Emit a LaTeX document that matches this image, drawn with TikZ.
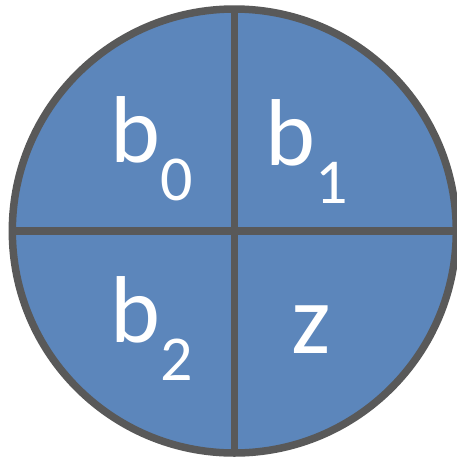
\documentclass[tikz,border=0pt]{standalone}
\usepackage{fontspec}
\setmainfont{Carlito}
\definecolor{fillblue}{RGB}{92,134,187}
\definecolor{edgegray}{RGB}{89,89,89}
\tikzset{
  disk/.style={circle, draw=edgegray, fill=fillblue, line width=7.5pt, minimum size=444pt, inner sep=0pt, outer sep=0pt},
  divider/.style={draw=edgegray, line width=7.5pt},
  lbl/.style={text=white, inner sep=0pt, outer sep=0pt, anchor=base west, font=\fontsize{95}{95}\selectfont},
}
\newcommand{\subd}[1]{\hspace{1pt}\raisebox{-38pt}{\fontsize{64}{64}\selectfont #1}}
\begin{document}
\begin{tikzpicture}[x=1pt,y=-1pt]
\useasboundingbox (0,0) rectangle (457,456);
\node[disk] (c) at (234.3,231) {};
\draw[divider] (c.north) -- (c.south);
\draw[divider] (c.west) -- (c.east);
\node[lbl] (b0) at (110,162.7) {b\subd{0}};
\node[lbl] (b1) at (265,165) {b\subd{1}};
\node[lbl] (b2) at (110,342.3) {b\subd{2}};
\node[lbl, font=\fontsize{100}{100}\selectfont] (z) at (291,353.3) {z};
\end{tikzpicture}
\end{document}
